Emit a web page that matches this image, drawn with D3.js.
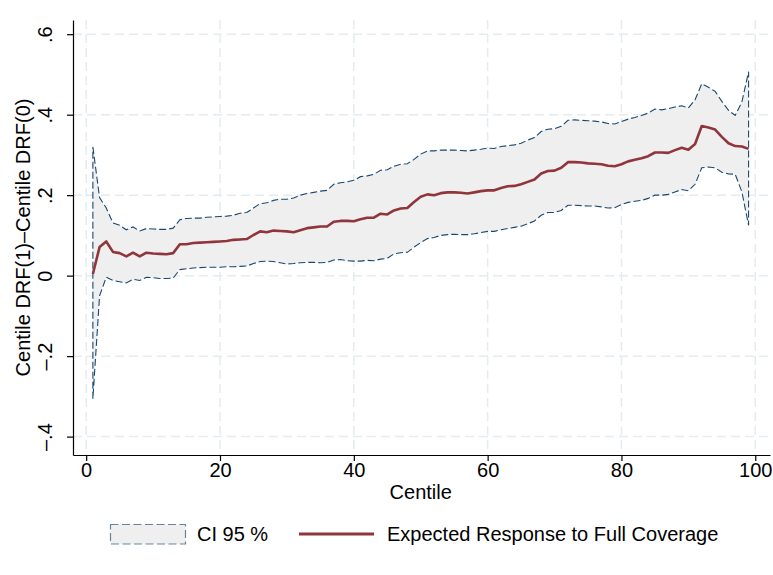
<!DOCTYPE html>
<html>
<head>
<meta charset="utf-8">
<script src="https://cdn.jsdelivr.net/npm/d3@7"></script>
<style>
  body { margin: 0; background: #fff; }
  text { font-family: "Liberation Sans", Arial, Helvetica, sans-serif; fill: #000; }
</style>
</head>
<body>
<svg id="chart" width="773" height="575"></svg>
<script>
// Centiles of the outcome distribution
const centiles = d3.range(1, 100);

// Centile DRF(1) - Centile DRF(0): point estimate
const effect = [
  0.004, 0.071, 0.085, 0.059, 0.056, 0.048, 0.057, 0.048, 0.057, 0.055,
  0.054, 0.053, 0.056, 0.078, 0.078, 0.081, 0.082, 0.083, 0.084, 0.085,
  0.086, 0.089, 0.090, 0.091, 0.101, 0.110, 0.108, 0.112, 0.111, 0.110,
  0.108, 0.113, 0.118, 0.120, 0.122, 0.122, 0.134, 0.136, 0.136, 0.135,
  0.140, 0.144, 0.144, 0.154, 0.152, 0.162, 0.167, 0.168, 0.183, 0.196,
  0.202, 0.200, 0.205, 0.207, 0.207, 0.206, 0.204, 0.207, 0.210, 0.212,
  0.212, 0.218, 0.222, 0.223, 0.227, 0.233, 0.239, 0.254, 0.260, 0.261,
  0.268, 0.282, 0.282, 0.281, 0.279, 0.278, 0.277, 0.273, 0.272, 0.277,
  0.284, 0.288, 0.292, 0.297, 0.306, 0.306, 0.305, 0.312, 0.318, 0.313,
  0.327, 0.372, 0.368, 0.363, 0.345, 0.329, 0.322, 0.321, 0.315
];

// 95% confidence band, upper bound
const ciUpper = [
  0.320, 0.194, 0.168, 0.131, 0.125, 0.114, 0.121, 0.111, 0.117, 0.116,
  0.115, 0.115, 0.118, 0.139, 0.142, 0.143, 0.143, 0.145, 0.146, 0.147,
  0.148, 0.150, 0.155, 0.157, 0.168, 0.179, 0.181, 0.187, 0.190, 0.190,
  0.193, 0.200, 0.204, 0.207, 0.210, 0.212, 0.227, 0.231, 0.233, 0.237,
  0.246, 0.248, 0.252, 0.262, 0.263, 0.272, 0.277, 0.278, 0.289, 0.302,
  0.310, 0.310, 0.312, 0.312, 0.312, 0.311, 0.310, 0.312, 0.314, 0.317,
  0.316, 0.321, 0.323, 0.325, 0.329, 0.337, 0.343, 0.358, 0.364, 0.365,
  0.371, 0.386, 0.387, 0.386, 0.385, 0.384, 0.382, 0.378, 0.377, 0.383,
  0.389, 0.393, 0.398, 0.404, 0.414, 0.412, 0.415, 0.419, 0.422, 0.417,
  0.437, 0.477, 0.468, 0.458, 0.433, 0.411, 0.398, 0.432, 0.507
];

// 95% confidence band, lower bound
const ciLower = [
  -0.306, -0.050, -0.004, -0.012, -0.015, -0.018, -0.009, -0.012, -0.004, -0.005,
  -0.007, -0.007, -0.006, 0.015, 0.017, 0.019, 0.020, 0.021, 0.021, 0.021,
  0.022, 0.022, 0.023, 0.024, 0.030, 0.035, 0.036, 0.035, 0.032, 0.029,
  0.030, 0.032, 0.033, 0.033, 0.032, 0.033, 0.039, 0.040, 0.037, 0.036,
  0.036, 0.038, 0.037, 0.041, 0.043, 0.054, 0.057, 0.058, 0.071, 0.082,
  0.092, 0.095, 0.100, 0.102, 0.103, 0.102, 0.102, 0.104, 0.107, 0.110,
  0.110, 0.114, 0.117, 0.120, 0.123, 0.129, 0.136, 0.150, 0.157, 0.157,
  0.162, 0.175, 0.175, 0.174, 0.173, 0.173, 0.171, 0.168, 0.169, 0.177,
  0.182, 0.185, 0.187, 0.192, 0.200, 0.200, 0.202, 0.208, 0.214, 0.211,
  0.227, 0.268, 0.270, 0.268, 0.257, 0.253, 0.252, 0.208, 0.125
];

const xTicks = [0, 20, 40, 60, 80, 100];
const yTicks = [-0.4, -0.2, 0, 0.2, 0.4, 0.6];
const xTitle = "Centile";
const yTitle = "Centile DRF(1)\u2013Centile DRF(0)";
const legendLabels = ["CI 95 %", "Expected Response to Full Coverage"];

const bandFill = "#efefef";
const bandStroke = "#1a476f";
const lineColor = "#90353b";
const gridColor = "#e4ecef";
const fontSize = 20;

const plot = { left: 73, right: 770, top: 20, bottom: 455 };

const svg = d3.select("#chart");

const x = d3.scaleLinear().domain([-1.97, 102.2]).range([plot.left, plot.right]);
const y = d3.scaleLinear().domain([-0.4457, 0.6353]).range([plot.bottom, plot.top]);

const fmtY = d => d === 0 ? "0" : (d < 0 ? "\u2013" : "") + String(Math.abs(+d.toFixed(1))).replace(/^0/, "");

// grid
const grid = svg.append("g").attr("stroke", gridColor).attr("stroke-width", 1.5)
  .attr("stroke-dasharray", "9,5").attr("fill", "none");
grid.selectAll("line.gy").data(yTicks).join("line").attr("class", "gy")
  .attr("x1", plot.left).attr("x2", plot.right)
  .attr("y1", d => y(d)).attr("y2", d => y(d));
grid.selectAll("line.gx").data(xTicks).join("line").attr("class", "gx")
  .attr("y1", plot.top).attr("y2", plot.bottom)
  .attr("x1", d => x(d)).attr("x2", d => x(d));

// confidence band
const rows = centiles.map((c, i) => ({ c, m: effect[i], lo: ciLower[i], hi: ciUpper[i] }));
const area = d3.area().x(d => x(d.c)).y0(d => y(d.lo)).y1(d => y(d.hi));
svg.append("path").datum(rows).attr("d", area).attr("fill", bandFill).attr("stroke", "none");

// dashed outline around the band, closed at both ends
const outline = rows.map(d => [x(d.c), y(d.hi)])
  .concat(rows.slice().reverse().map(d => [x(d.c), y(d.lo)]));
svg.append("path").attr("d", "M" + outline.join("L") + "Z")
  .attr("fill", "none").attr("stroke", bandStroke).attr("stroke-width", 1.1)
  .attr("stroke-dasharray", "7,3");

// point estimate
const line = d3.line().x(d => x(d.c)).y(d => y(d.m));
svg.append("path").datum(rows).attr("d", line).attr("fill", "none")
  .attr("stroke", lineColor).attr("stroke-width", 2.6).attr("stroke-linejoin", "round");

// axes
const xAxis = svg.append("g").attr("transform", `translate(0,${plot.bottom})`)
  .call(d3.axisBottom(x).tickValues(xTicks).tickSizeOuter(0).tickSizeInner(6).tickPadding(2));
const yAxis = svg.append("g").attr("transform", `translate(${plot.left},0)`)
  .call(d3.axisLeft(y).tickValues(yTicks).tickFormat(fmtY).tickSizeOuter(0).tickSizeInner(6));

[xAxis, yAxis].forEach(g => {
  g.select(".domain").attr("stroke", "#000").attr("stroke-width", 1.2);
  g.selectAll(".tick line").attr("stroke", "#000").attr("stroke-width", 1.2);
  g.selectAll("text").attr("font-size", fontSize).attr("fill", "#000")
    .style("font-family", "'Liberation Sans', Arial, sans-serif");
});

yAxis.selectAll(".tick text")
  .attr("x", 0).attr("dy", 0)
  .attr("transform", "translate(-21,0) rotate(-90)")
  .attr("text-anchor", "middle");

// titles
svg.append("text").attr("x", (x(0) + x(100)) / 2).attr("y", 499)
  .attr("text-anchor", "middle").attr("font-size", fontSize).text(xTitle);
svg.append("text").attr("transform", `translate(30,${(plot.top + plot.bottom) / 2}) rotate(-90)`)
  .attr("text-anchor", "middle").attr("font-size", fontSize).text(yTitle);

// legend
const lg = svg.append("g");
lg.append("rect").attr("x", 110.5).attr("y", 524.5).attr("width", 75).attr("height", 19.5)
  .attr("fill", bandFill).attr("stroke", bandStroke).attr("stroke-opacity", 0.65)
  .attr("stroke-width", 1.2).attr("stroke-dasharray", "8,3.5");
lg.append("text").attr("x", 197).attr("y", 541).attr("font-size", fontSize).text(legendLabels[0]);
lg.append("line").attr("x1", 299).attr("x2", 374).attr("y1", 534).attr("y2", 534)
  .attr("stroke", lineColor).attr("stroke-width", 2.8);
lg.append("text").attr("x", 387).attr("y", 541).attr("font-size", fontSize).text(legendLabels[1]);
</script>
</body>
</html>
